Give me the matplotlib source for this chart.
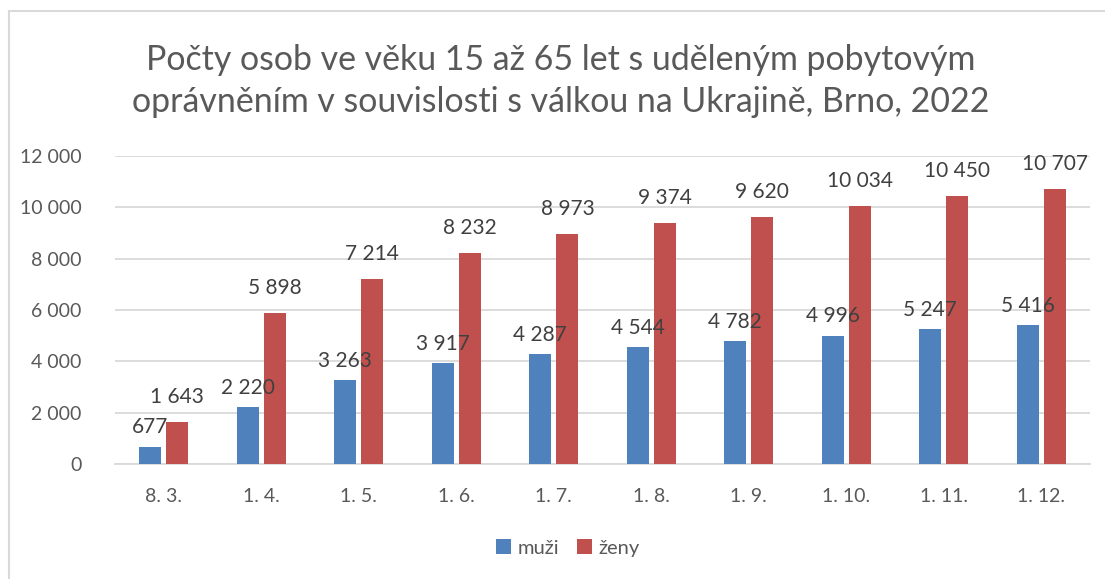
import numpy as np
import matplotlib
matplotlib.use("Agg")
import matplotlib.pyplot as plt
from matplotlib.patches import Rectangle

dates = ["8. 3.", "1. 4.", "1. 5.", "1. 6.", "1. 7.", "1. 8.", "1. 9.", "1. 10.", "1. 11.", "1. 12."]
muzi = [677, 2220, 3263, 3917, 4287, 4544, 4782, 4996, 5247, 5416]
zeny = [1643, 5898, 7214, 8232, 8973, 9374, 9620, 10034, 10450, 10707]

blue = "#4f81bd"
red = "#c0504d"
txt = "#595959"

plt.rcParams['font.family'] = ['Lato', 'DejaVu Sans']

def fmt(v):
    return f"{v:,}".replace(",", " ")

fig = plt.figure(figsize=(11.05, 5.79), dpi=100)
# outer chart border
fig.patches.append(Rectangle((9 / 1105, -0.01), 1.02, (579 - 11) / 579 + 0.01,
                             transform=fig.transFigure, fill=False,
                             edgecolor="#d9d9d9", linewidth=1.5))

ax = fig.add_axes([115 / 1105, 1 - 464 / 579, 975 / 1105, 308 / 579])
x = np.arange(len(dates))
w = 0.225
off = 0.14
ax.bar(x - off, muzi, w, color=blue, label="muži", zorder=3)
ax.bar(x + off, zeny, w, color=red, label="ženy", zorder=3)

for xi, v in zip(x, muzi):
    ax.annotate(fmt(v), (xi - off, v), xytext=(0, 14), textcoords="offset points",
                ha="center", va="center", fontsize=15, color="#404040")
for xi, v in zip(x, zeny):
    ax.annotate(fmt(v), (xi + off, v), xytext=(0, 18), textcoords="offset points",
                ha="center", va="center", fontsize=15, color="#404040")

ax.set_xlim(-0.5, len(dates) - 0.5)
ax.set_ylim(0, 12000)
ax.set_yticks(np.arange(0, 12001, 2000))
ax.set_yticklabels([fmt(v) for v in range(0, 12001, 2000)])
ax.set_xticks(x)
ax.set_xticklabels(dates)
ax.tick_params(axis="both", length=0, labelsize=14, colors=txt)
ax.tick_params(axis="x", pad=17)
ax.tick_params(axis="y", pad=24)
ax.grid(axis="y", color="#d9d9d9", linewidth=1.3, zorder=0)
for s in ["top", "right", "left"]:
    ax.spines[s].set_visible(False)
ax.spines["bottom"].set_color("#d9d9d9")
ax.spines["bottom"].set_linewidth(1.3)

fig.text(561 / 1105, 1 - 81 / 579, "Počty osob ve věku 15 až 65 let s uděleným pobytovým\n"
         "oprávněním v souvislosti s válkou na Ukrajině, Brno, 2022",
         ha="center", va="center", fontsize=24.4, color=txt, linespacing=1.42)

ax.legend(loc="center", bbox_to_anchor=(568 / 1105, 1 - 548 / 579),
          bbox_transform=fig.transFigure, ncol=2, frameon=False, fontsize=14.5,
          handlelength=0.75, handleheight=0.75, handletextpad=0.3, columnspacing=0.9,
          labelcolor=txt)

fig.savefig("out.png", dpi=100, facecolor="white")
